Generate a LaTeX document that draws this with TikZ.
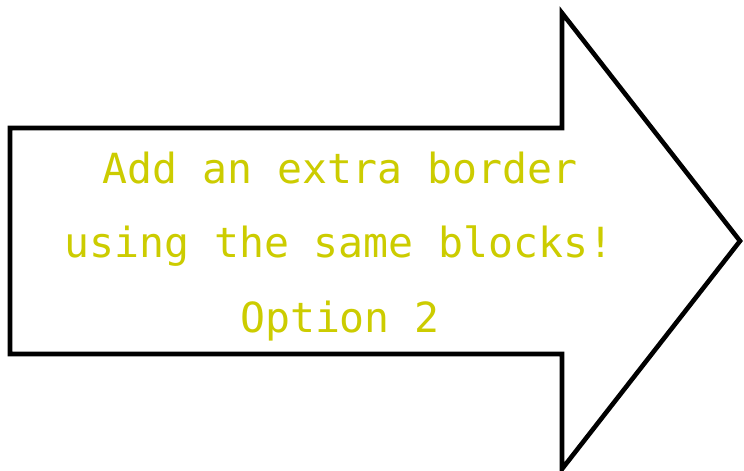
\documentclass[tikz,border=0pt]{standalone}
\usepackage{fontspec}
\setmonofont{DejaVu Sans Mono}
\usepackage{tikz}

\definecolor{textyellow}{HTML}{CCCC00}

\begin{document}
\begin{tikzpicture}[x=1pt,y=-1pt]
\tikzset{label/.style = {anchor=base,inner sep=0pt,text=textyellow,font=\ttfamily\fontsize{41.5}{50}\selectfont}}
\tikzset{outline/.style = {draw=black,line width=4.6pt,miter limit=10}}
\useasboundingbox (0,0) rectangle (744,471);
% arrow
\coordinate (ta) at (10,128);
\coordinate (tb) at (562,128);
\coordinate (tc) at (562,13);
\coordinate (tip) at (740,241);
\coordinate (bc) at (562,469);
\coordinate (bb) at (562,354);
\coordinate (ba) at (10,354);
\draw[outline] (ta) -- (tb) -- (tc) -- (tip) -- (bc) -- (bb) -- (ba) -- cycle;

% text
\node[label] (first) at (340,183) {Add an extra border};
\node[label] (second) at (339,257) {using the same blocks!};
\node[label] (third) at (340,332) {Option 2};
\end{tikzpicture}
\end{document}
